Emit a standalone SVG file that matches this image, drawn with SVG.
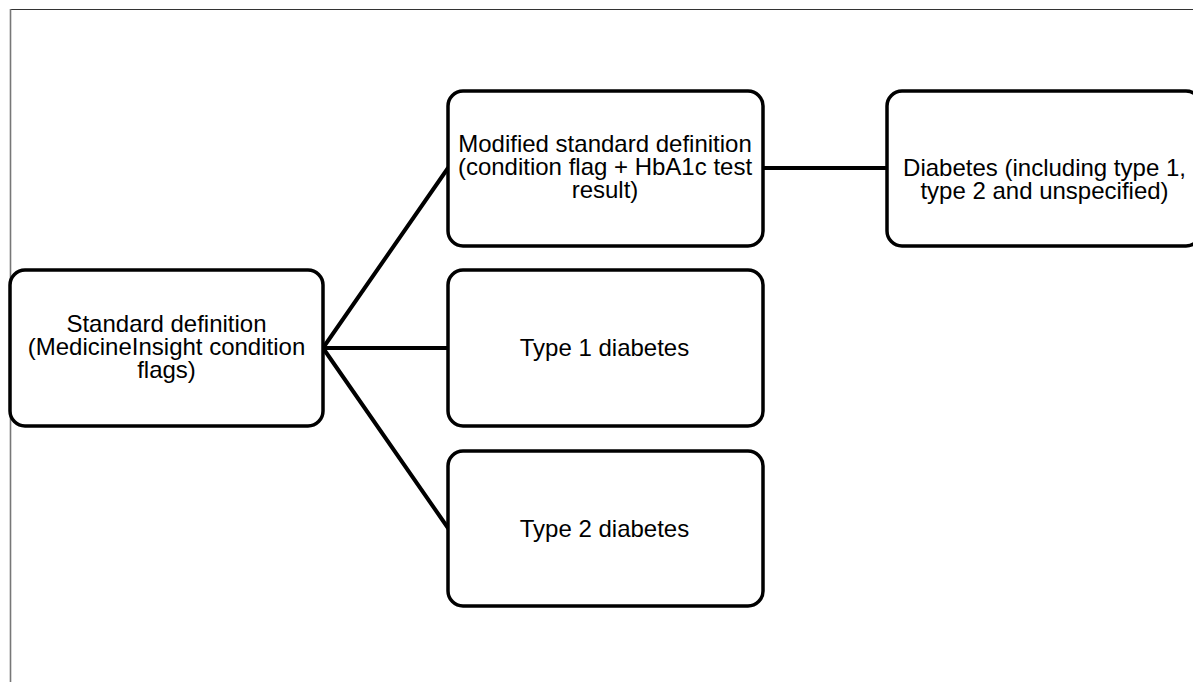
<svg xmlns="http://www.w3.org/2000/svg" width="1193" height="682" viewBox="0 0 1193 682">
<style>
.node rect{fill:#fff;stroke:#000;stroke-width:3.5}
.node text{font-family:"Liberation Sans",Arial,sans-serif;font-size:24px;fill:#000;text-anchor:middle}
.conn line{stroke:#000;stroke-width:4;stroke-linecap:round}
</style>
<rect width="1193" height="682" fill="#fff"/>
<g id="frame">
<line x1="10" y1="9.5" x2="1193" y2="9.5" stroke="#333" stroke-width="1.2"/>
<line x1="10.5" y1="9" x2="10.5" y2="682" stroke="#777" stroke-width="1.6"/>
</g>
<g id="connectors" class="conn">
<line x1="323" y1="348" x2="448" y2="168"/>
<line x1="323" y1="348" x2="448" y2="348"/>
<line x1="323" y1="348" x2="448" y2="528"/>
<line x1="763" y1="168" x2="887" y2="168"/>
</g>
<g id="standard" class="node">
<rect x="10" y="270" width="313" height="156" rx="15"/>
<text x="166.5" y="331.7">Standard definition</text>
<text x="166.5" y="355">(MedicineInsight condition</text>
<text x="166.5" y="378.3">flags)</text>
</g>
<g id="modified" class="node">
<rect x="448" y="91" width="315" height="155" rx="15"/>
<text x="605" y="151.7">Modified standard definition</text>
<text x="605" y="175">(condition flag + HbA1c test</text>
<text x="605" y="198.3">result)</text>
</g>
<g id="diabetes" class="node">
<rect x="887" y="91" width="314" height="155" rx="15"/>
<text x="1044.5" y="175.5">Diabetes (including type 1,</text>
<text x="1044.5" y="198.5">type 2 and unspecified)</text>
</g>
<g id="type1" class="node">
<rect x="448" y="270" width="315" height="156" rx="15"/>
<text x="604.5" y="356">Type 1 diabetes</text>
</g>
<g id="type2" class="node">
<rect x="448" y="451" width="315" height="155" rx="15"/>
<text x="604.5" y="536.7">Type 2 diabetes</text>
</g>
</svg>
